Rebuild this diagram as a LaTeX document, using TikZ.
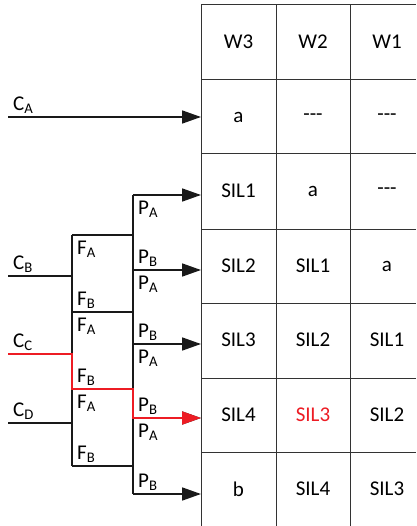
\documentclass[tikz,border=0pt]{standalone}
\usepackage{fontspec}
\setmainfont{Carlito}
\usetikzlibrary{arrows.meta}
\definecolor{pathred}{RGB}{237,28,36}

\begin{document}
\begin{tikzpicture}[x=1pt,y=-1pt,
    wire/.style={line width=1.7pt, black!90},
    feed/.style={wire, -{Triangle[length=19pt,width=13pt]}},
    grid/.style={line width=1pt, black!80},
    txt/.style={font=\fontsize{21}{24}\selectfont, inner sep=0pt},
    lbldown/.style={txt, anchor=north west, xshift=5pt, yshift=-6pt},
    lblup/.style={txt, anchor=south west, xshift=5pt, yshift=3pt}]
        \useasboundingbox (0,0) rectangle (416,526);

        % table
        \foreach \x in {201,276,350} \draw[grid] (\x,5) -- (\x,526);
        \foreach \y in {5,80,154,229,303,378,452} \draw[grid] (201,\y) -- (416,\y);
        \foreach \r/\y/\p/\q/\s in {0/42/W3/W2/W1, 1/117/a/{-}{-}{-}/{-}{-}{-}, 2/191/SIL1/a/{-}{-}{-},
            3/266/SIL2/SIL1/a, 4/340/SIL3/SIL2/SIL1, 5/415/SIL4/SIL3/SIL2, 6/489/b/SIL4/SIL3}{
            \node[txt] (w3r\r) at (238.5,\y) {\p};
            \node[txt] (w2r\r) at (313,\y) {\q};
            \node[txt] (w1r\r) at (387,\y) {\s};
        }
        \node[txt, fill=white, text=pathred, inner sep=1pt] at (w2r5) {SIL3};

        % inputs and busses
        \coordinate (ca) at (8,117);   \coordinate (ta) at (201,117);
        \coordinate (cb) at (8,276);   \coordinate (fb) at (72,276);
        \coordinate (cc) at (8,354);   \coordinate (fc) at (72,354);
        \coordinate (cd) at (8,423);   \coordinate (fd) at (72,423);
        \foreach \i/\y in {1/235,2/312,3/389,4/466}{
            \coordinate (f\i) at (72,\y); \coordinate (p\i) at (133,\y);
        }
        \foreach \i/\y in {1/195,2/270,3/344,4/418,5/494}{
            \coordinate (q\i) at (133,\y); \coordinate (t\i) at (201,\y);
        }

        \draw[feed] (ca) -- (ta);
        \draw[wire] (cb) -- (fb); \draw[wire] (cc) -- (fc); \draw[wire] (cd) -- (fd);
        \draw[wire] (f1) -- (f4);
        \draw[wire] (q1) -- (q5);
        \foreach \i in {1,...,4} \draw[wire] (f\i) -- (p\i);
        \foreach \i in {1,...,5} \draw[feed] (q\i) -- (t\i);

        % highlighted path
        \draw[feed, pathred] (cc) -- (fc) -- (f3) -- (p3) -- (q4) -- (t4);

        % labels
        \node[lblup] (lca) at (ca) {C\textsubscript{A}};
        \node[lblup] (lcb) at (cb) {C\textsubscript{B}};
        \node[lblup] (lcc) at (cc) {C\textsubscript{C}};
        \node[lblup] (lcd) at (cd) {C\textsubscript{D}};
        \foreach \i/\j in {1/2,2/3,3/4}{
            \node[lbldown] (fa\i) at (f\i) {F\textsubscript{A}};
            \node[lblup] (fb\i) at (f\j) {F\textsubscript{B}};
        }
        \foreach \i/\j in {1/2,2/3,3/4,4/5}{
            \node[lbldown] (pa\i) at (q\i) {P\textsubscript{A}};
            \node[lblup] (pb\i) at (q\j) {P\textsubscript{B}};
        }
    \end{tikzpicture}
\end{document}
